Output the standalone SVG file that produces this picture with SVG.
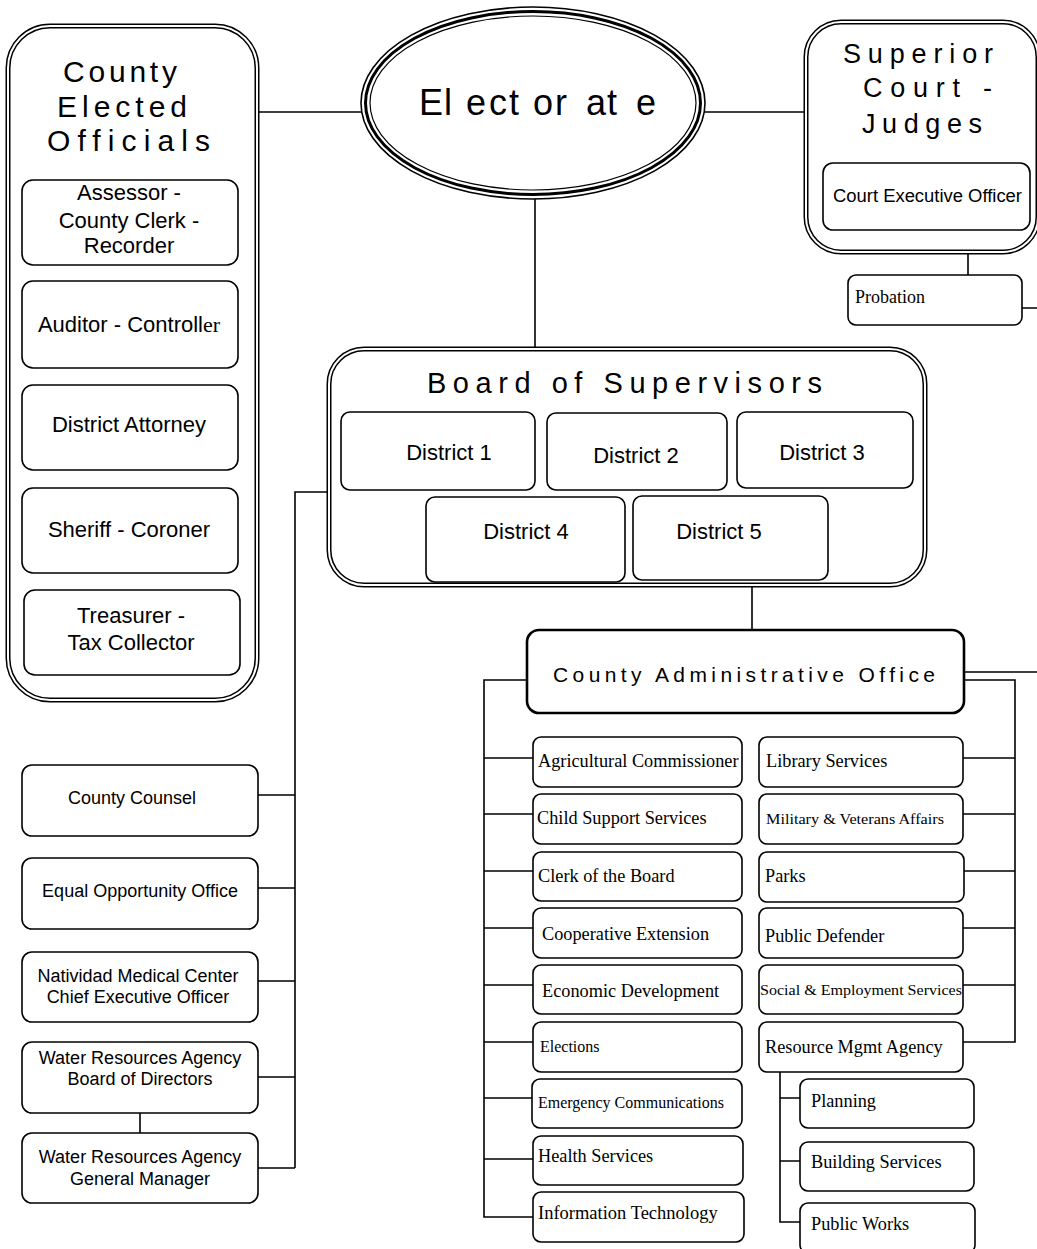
<svg xmlns="http://www.w3.org/2000/svg" width="1037" height="1249" viewBox="0 0 1037 1249">
<style>
.box{fill:#fff;stroke:#000;stroke-width:1.6}
.cao{fill:#fff;stroke:#000;stroke-width:2.6}
.dblo{fill:#fff;stroke:#000;stroke-width:5}
.dbli{fill:none;stroke:#fff;stroke-width:2}
.ln{fill:none;stroke:#000;stroke-width:1.6}
.sans{font-family:"Liberation Sans",Arial,sans-serif;fill:#000}
.serif{font-family:"Liberation Serif","Times New Roman",serif;fill:#000}
.mid{text-anchor:middle}
.t22{font-size:22px}
.t18{font-size:18px}
.ts{font-size:18.3px}
</style>
<rect width="1037" height="1249" fill="#fff"/>
<g id="connectors">
<path class="ln" d="M257 112H362M705 112H806M535 199V349"/>
<path class="ln" d="M329 492H295V1168M258 795H295M258 888H295M258 981H295M258 1077H295M258 1168H295M140 1113V1133"/>
<path class="ln" d="M752 585V630M964 672H1037"/>
<path class="ln" d="M527 680H484V1217H533M484 758H533M484 814H533M484 871H533M484 928H533M484 985H533M484 1042H533M484 1098H533M484 1159H533"/>
<path class="ln" d="M964 680H1015V1042H963M963 758H1015M963 814H1015M963 871H1015M963 928H1015M963 985H1015"/>
<path class="ln" d="M780 1072V1222H800M780 1098H800M780 1161H800"/>
<path class="ln" d="M968 252V275M1022 308H1037"/>
</g>
<g id="county-elected-officials">
<rect class="dblo" x="8" y="26" width="249" height="674" rx="42"/>
<rect class="dbli" x="8" y="26" width="249" height="674" rx="42"/>
<text class="sans" font-size="30" x="63" y="82" textLength="114" lengthAdjust="spacing">County</text>
<text class="sans" font-size="30" x="57" y="117" textLength="130" lengthAdjust="spacing">Elected</text>
<text class="sans" font-size="30" x="47" y="151" textLength="163" lengthAdjust="spacing">Officials</text>
</g>
<g id="assessor">
<rect class="box" x="22" y="180" width="216" height="85" rx="11"/>
<text class="sans t22 mid" x="129" y="200">Assessor -</text>
<text class="sans t22 mid" x="129" y="228">County Clerk -</text>
<text class="sans t22 mid" x="129" y="253">Recorder</text>
</g>
<g id="auditor">
<rect class="box" x="22" y="281" width="216" height="87" rx="11"/>
<text class="sans t22 mid" x="129" y="332">Auditor - Controll<tspan class="serif">er</tspan></text>
</g>
<g id="district-attorney">
<rect class="box" x="22" y="385" width="216" height="85" rx="11"/>
<text class="sans t22 mid" x="129" y="432">District Attorney</text>
</g>
<g id="sheriff">
<rect class="box" x="22" y="488" width="216" height="85" rx="11"/>
<text class="sans t22 mid" x="129" y="537">Sheriff - Coroner</text>
</g>
<g id="treasurer">
<rect class="box" x="24" y="590" width="216" height="85" rx="11"/>
<text class="sans t22 mid" x="131" y="623">Treasurer -</text>
<text class="sans t22 mid" x="131" y="650">Tax Collector</text>
</g>
<g id="electorate">
<ellipse cx="533" cy="103" rx="172" ry="96" fill="#fff" stroke="#000" stroke-width="1.6"/>
<ellipse cx="533" cy="103" rx="167.5" ry="91.5" fill="none" stroke="#000" stroke-width="3"/>
<ellipse cx="533" cy="103" rx="163" ry="87" fill="none" stroke="#000" stroke-width="1.2"/>
<text class="sans" font-size="36" y="115" x="419 444 466 489 509 533 555 586 607 636">Electorate</text>
</g>
<g id="superior-court">
<rect class="dblo" x="806" y="22" width="232" height="230" rx="35"/>
<rect class="dbli" x="806" y="22" width="232" height="230" rx="35"/>
<text class="sans" font-size="27" x="843" y="63" textLength="150" lengthAdjust="spacing">Superior</text>
<text class="sans" font-size="27" x="863" y="97" textLength="129" lengthAdjust="spacing">Court -</text>
<text class="sans" font-size="27" x="862" y="133" textLength="120" lengthAdjust="spacing">Judges</text>
</g>
<g id="court-executive-officer">
<rect class="box" x="823" y="163" width="207" height="67" rx="10"/>
<text class="sans" font-size="18" x="833" y="202" textLength="189" lengthAdjust="spacingAndGlyphs">Court Executive Officer</text>
</g>
<g id="probation">
<rect class="box" x="848" y="275" width="174" height="50" rx="8"/>
<text class="serif" font-size="18" x="855" y="303">Probation</text>
</g>
<g id="board-of-supervisors">
<rect class="dblo" x="329" y="349" width="596" height="236" rx="35"/>
<rect class="dbli" x="329" y="349" width="596" height="236" rx="35"/>
<text class="sans" font-size="29" x="427" y="393" textLength="395" lengthAdjust="spacing">Board of Supervisors</text>
</g>
<g id="district-1">
<rect class="box" x="341" y="412" width="194" height="78" rx="9"/>
<text class="sans t22 mid" x="449" y="460">District 1</text>
</g>
<g id="district-2">
<rect class="box" x="547" y="413" width="180" height="77" rx="9"/>
<text class="sans t22 mid" x="636" y="463">District 2</text>
</g>
<g id="district-3">
<rect class="box" x="737" y="412" width="176" height="76" rx="9"/>
<text class="sans t22 mid" x="822" y="460">District 3</text>
</g>
<g id="district-4">
<rect class="box" x="426" y="497" width="199" height="85" rx="9"/>
<text class="sans t22 mid" x="526" y="539">District 4</text>
</g>
<g id="district-5">
<rect class="box" x="633" y="496" width="195" height="84" rx="9"/>
<text class="sans t22 mid" x="719" y="539">District 5</text>
</g>
<g id="county-administrative-office">
<rect class="cao" x="527" y="630" width="437" height="83" rx="12"/>
<text class="sans" font-size="21" x="553" y="682" textLength="382" lengthAdjust="spacing">County Administrative Office</text>
</g>
<g id="county-counsel">
<rect class="box" x="22" y="765" width="236" height="71" rx="10"/>
<text class="sans t18 mid" x="132" y="804">County Counsel</text>
</g>
<g id="equal-opportunity">
<rect class="box" x="22" y="858" width="236" height="71" rx="10"/>
<text class="sans t18 mid" x="140" y="897">Equal Opportunity Office</text>
</g>
<g id="natividad">
<rect class="box" x="22" y="952" width="236" height="70" rx="10"/>
<text class="sans t18 mid" x="138" y="982">Natividad Medical Center</text>
<text class="sans t18 mid" x="138" y="1003">Chief Executive Officer</text>
</g>
<g id="water-board">
<rect class="box" x="22" y="1042" width="236" height="71" rx="10"/>
<text class="sans t18 mid" x="140" y="1064">Water Resources Agency</text>
<text class="sans t18 mid" x="140" y="1085">Board of Directors</text>
</g>
<g id="water-gm">
<rect class="box" x="22" y="1133" width="236" height="70" rx="10"/>
<text class="sans t18 mid" x="140" y="1163">Water Resources Agency</text>
<text class="sans t18 mid" x="140" y="1185">General Manager</text>
</g>
<g id="agricultural-commissioner">
<rect class="box" x="533" y="737" width="209" height="50" rx="8"/>
<text class="serif ts" x="538" y="767">Agricultural Commissioner</text>
</g>
<g id="child-support">
<rect class="box" x="533" y="794" width="209" height="50" rx="8"/>
<text class="serif ts" x="537" y="824">Child Support Services</text>
</g>
<g id="clerk-of-board">
<rect class="box" x="533" y="852" width="209" height="49" rx="8"/>
<text class="serif ts" x="538" y="882">Clerk of the Board</text>
</g>
<g id="cooperative-extension">
<rect class="box" x="533" y="908" width="209" height="50" rx="8"/>
<text class="serif ts" x="542" y="940">Cooperative Extension</text>
</g>
<g id="economic-development">
<rect class="box" x="533" y="965" width="209" height="49" rx="8"/>
<text class="serif ts" x="542" y="997">Economic Development</text>
</g>
<g id="elections">
<rect class="box" x="533" y="1022" width="209" height="50" rx="8"/>
<text class="serif" font-size="16" x="540" y="1052">Elections</text>
</g>
<g id="emergency-communications">
<rect class="box" x="532" y="1079" width="210" height="49" rx="8"/>
<text class="serif" font-size="16" x="538" y="1108">Emergency Communications</text>
</g>
<g id="health-services">
<rect class="box" x="533" y="1136" width="210" height="49" rx="8"/>
<text class="serif ts" x="538" y="1162">Health Services</text>
</g>
<g id="information-technology">
<rect class="box" x="533" y="1192" width="211" height="50" rx="8"/>
<text class="serif" font-size="18.5" x="538" y="1219">Information Technology</text>
</g>
<g id="library-services">
<rect class="box" x="759" y="737" width="204" height="50" rx="8"/>
<text class="serif ts" x="766" y="767">Library Services</text>
</g>
<g id="military-veterans">
<rect class="box" x="759" y="794" width="204" height="50" rx="8"/>
<text class="serif" font-size="15.6" x="766" y="824" textLength="178" lengthAdjust="spacingAndGlyphs">Military &amp; Veterans Affairs</text>
</g>
<g id="parks">
<rect class="box" x="759" y="852" width="205" height="50" rx="8"/>
<text class="serif ts" x="765" y="882">Parks</text>
</g>
<g id="public-defender">
<rect class="box" x="759" y="908" width="204" height="50" rx="8"/>
<text class="serif ts" x="765" y="942">Public Defender</text>
</g>
<g id="social-employment">
<rect class="box" x="759" y="965" width="204" height="49" rx="8"/>
<text class="serif" font-size="15.6" x="760" y="995" textLength="202" lengthAdjust="spacingAndGlyphs">Social &amp; Employment Services</text>
</g>
<g id="resource-mgmt">
<rect class="box" x="759" y="1022" width="204" height="50" rx="8"/>
<text class="serif ts" x="765" y="1053">Resource Mgmt Agency</text>
</g>
<g id="planning">
<rect class="box" x="800" y="1079" width="174" height="49" rx="8"/>
<text class="serif ts" x="811" y="1107">Planning</text>
</g>
<g id="building-services">
<rect class="box" x="800" y="1142" width="174" height="49" rx="8"/>
<text class="serif ts" x="811" y="1168">Building Services</text>
</g>
<g id="public-works">
<rect class="box" x="800" y="1203" width="175" height="50" rx="8"/>
<text class="serif ts" x="811" y="1230">Public Works</text>
</g>
</svg>
